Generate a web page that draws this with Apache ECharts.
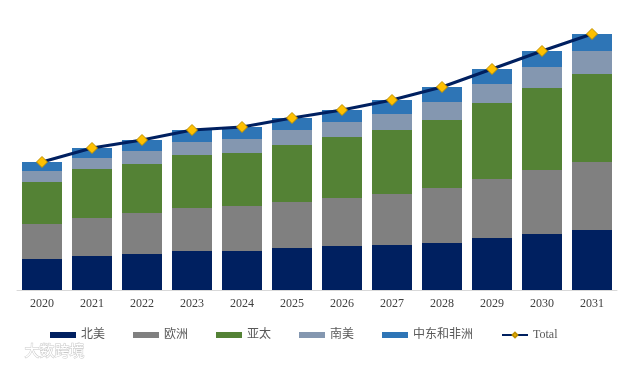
<!DOCTYPE html>
<html><head><meta charset="utf-8">
<script src="https://cdn.jsdelivr.net/npm/echarts@6/dist/echarts.min.js"></script>
<style>html,body{margin:0;padding:0;background:#fff}#c{width:634px;height:365px}</style>
</head><body><div id="c"></div>
<script>
const categories = ['2020','2021','2022','2023','2024','2025','2026','2027','2028','2029','2030','2031'];
const northAmerica = [31,34,36,39,39,42,44,45,47,52,56,60];
const europe       = [35,38,41,43,45,46,48,51,55,59,64,68];
const asiaPacific  = [42,49,49,53,53,57,61,64,68,76,82,88];
const southAmerica = [11,11,13,13,14,15,15,16,18,19,21,23];
const middleEastAfrica = [9,10,11,12,12,12,12,14,15,15,16,17];
const seriesNames = ['北美','欧洲','亚太','南美','中东和非洲','Total'];

const total = categories.map((_, i) => northAmerica[i] + europe[i] + asiaPacific[i] + southAmerica[i] + middleEastAfrica[i]);
const colors = ['#002060','#808080','#548235','#8497B0','#2E75B6'];
const barData = [northAmerica, europe, asiaPacific, southAmerica, middleEastAfrica];

const chart = echarts.init(document.getElementById('c'));
const series = barData.map((d, i) => ({
  name: seriesNames[i], type: 'bar', stack: 'all', data: d, barWidth: 40,
  itemStyle: { color: colors[i] }
}));
series.push({
  name: 'Total', type: 'line', data: total, symbol: 'diamond', symbolSize: 11,
  lineStyle: { color: '#002060', width: 3 },
  itemStyle: { color: '#FFC000', borderColor: '#BF9000', borderWidth: 1 },
  z: 10
});
chart.setOption({
  animation: false,
  grid: { left: 17, right: 17, top: 20, bottom: 75 },
  legend: {
    left: 50, top: 329, padding: 0, itemWidth: 26, itemHeight: 6, itemGap: 28,
    textStyle: { color: '#595959', fontSize: 12, fontFamily: 'Liberation Serif, Noto Sans CJK SC' },
    data: seriesNames.slice(0,5).map(n => ({ name: n, icon: 'rect' })).concat([{ name: 'Total' }])
  },
  xAxis: {
    type: 'category', data: categories,
    axisLine: { lineStyle: { color: '#D9D9D9', width: 1 } },
    axisTick: { show: false },
    axisLabel: { color: '#404040', fontSize: 12, fontFamily: 'Liberation Serif', margin: 8 }
  },
  yAxis: { type: 'value', min: 0, max: 270, show: false, splitLine: { show: false } },
  graphic: [{
    type: 'text', left: 24, top: 342,
    style: { text: '大数跨境', fill: '#FFFFFF', stroke: '#C8C8C8', lineWidth: 1, fontSize: 15, fontFamily: 'Noto Sans CJK SC' }
  }],
  series: series
});
</script></body></html>
